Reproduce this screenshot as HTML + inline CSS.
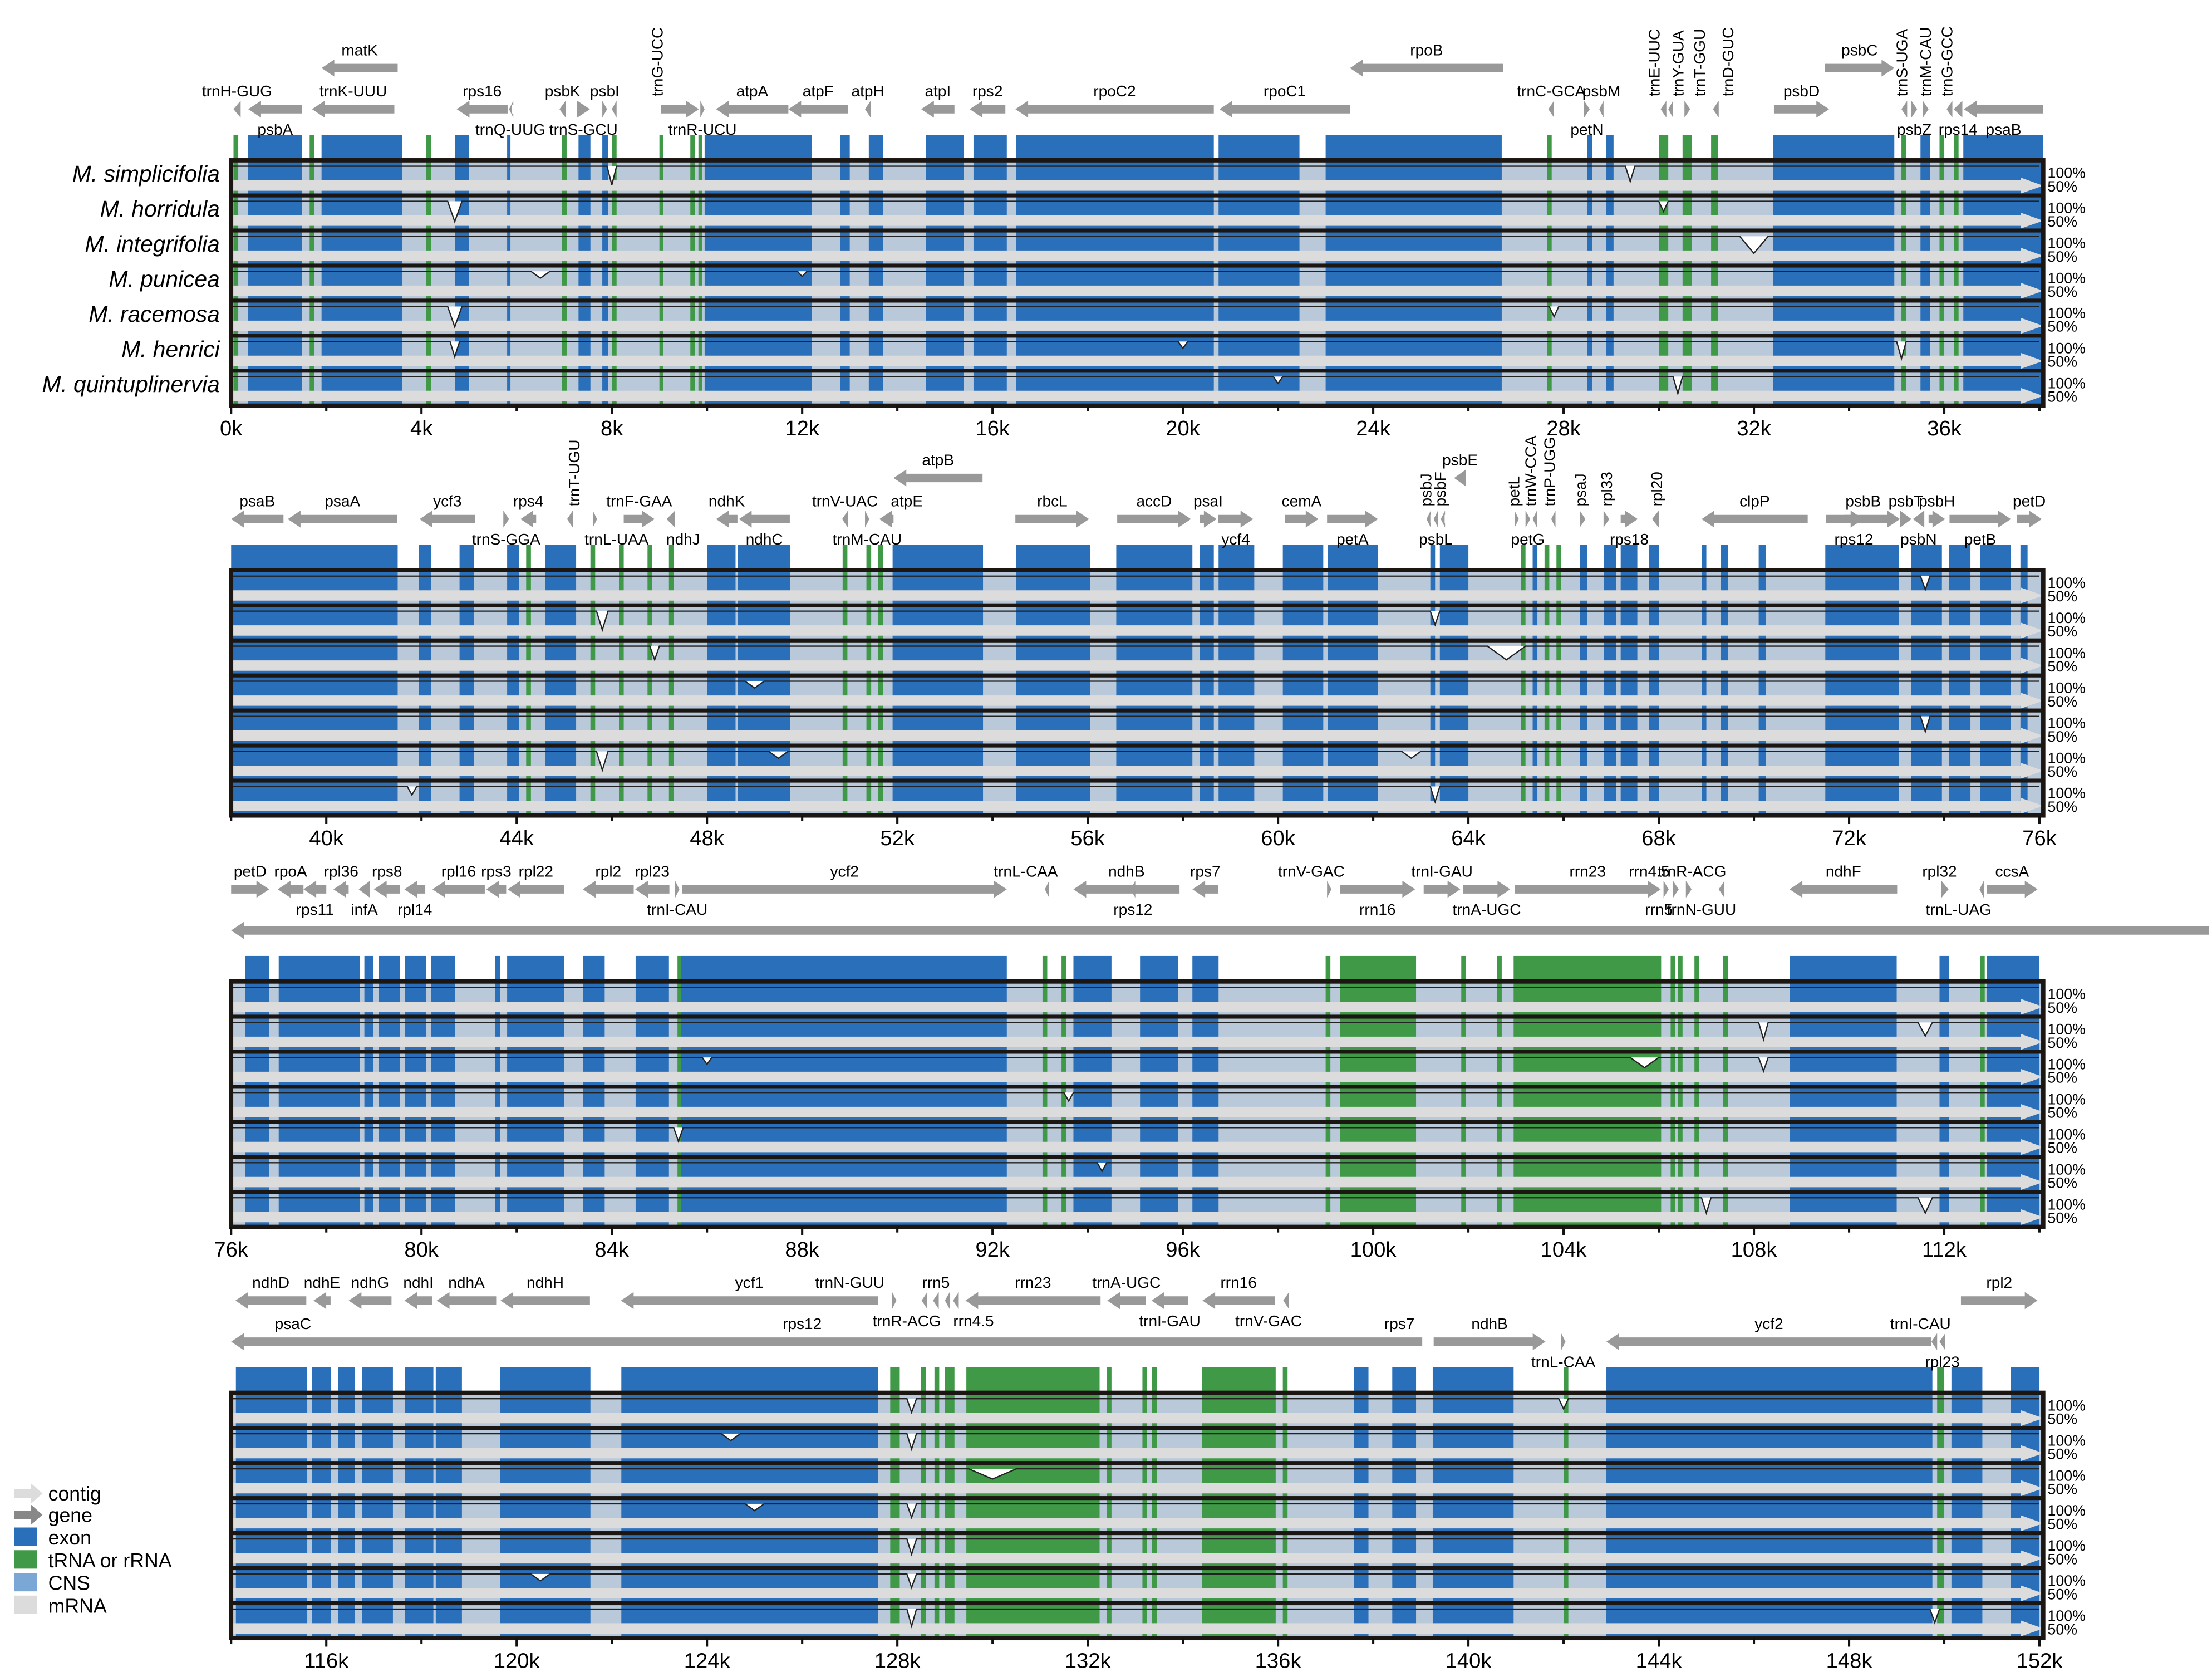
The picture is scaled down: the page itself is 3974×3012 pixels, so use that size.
<!DOCTYPE html>
<html><head><meta charset="utf-8">
<style>
html,body{margin:0;padding:0;background:#fff;}
svg{display:block;}
text{font-family:"Liberation Sans",Arial,sans-serif;}
</style></head>
<body>
<svg id="chart" xmlns="http://www.w3.org/2000/svg" width="3974" height="3012" viewBox="0 0 1560 1182.4" preserveAspectRatio="none">
<g id="legend">
  <g><polygon points="10,1050 22,1050 22,1046 30,1053 22,1060 22,1056 10,1056" fill="#dcdcdc"/><text x="34" y="1058" font-size="14">contig</text></g>
  <g><polygon points="10,1065 22,1065 22,1061 30,1068 22,1075 22,1071 10,1071" fill="#888"/><text x="34" y="1073" font-size="14">gene</text></g>
  <g><rect x="10" y="1077" width="16" height="13" fill="#2a6fb9"/><text x="34" y="1089" font-size="14">exon</text></g>
  <g><rect x="10" y="1093" width="16" height="13" fill="#3f9946"/><text x="34" y="1105" font-size="14">tRNA or rRNA</text></g>
  <g><rect x="10" y="1109" width="16" height="13" fill="#7aa7d6"/><text x="34" y="1121" font-size="14">CNS</text></g>
  <g><rect x="10" y="1125" width="16" height="13" fill="#dcdcdc"/><text x="34" y="1137" font-size="14">mRNA</text></g>
</g>
</svg>
<script>
// ---- data ----
const species = ["M. simplicifolia","M. horridula","M. integrifolia","M. punicea","M. racemosa","M. henrici","M. quintuplinervia"];
const panelStarts = [0,38,76,114];
const panelTops = [113,402,692,982];
const tickLabelsK = [[0,4,8,12,16,20,24,28,32,36],[40,44,48,52,56,60,64,68,72,76],[76,80,84,88,92,96,100,104,108,112],[116,120,124,128,132,136,140,144,148,152]];
const exons = [
 [[0.36,1.49],[1.9,3.6],[4.7,5.0],[5.8,5.87],[7.3,7.55],[7.8,7.92],[9.95,12.2],[12.8,13.0],[13.4,13.7],[14.6,15.4],[15.6,16.3],[16.5,20.65],[20.75,22.45],[23.0,26.7],[28.5,28.6],[28.9,29.05],[32.4,34.95],[35.5,35.7],[36.4,38.1]],
 [[38,41.5],[41.95,42.2],[42.8,43.1],[43.8,44.05],[44.6,45.25],[48.0,48.6],[48.65,49.75],[51.9,53.8],[54.5,56.05],[56.6,58.2],[58.35,58.65],[58.75,59.5],[60.1,60.95],[61.05,62.1],[63.2,63.3],[63.4,64.0],[65.35,65.45],[66.35,66.5],[66.85,67.1],[67.2,67.55],[67.8,68.0],[68.9,69.0],[69.3,69.45],[70.1,70.25],[71.5,73.05],[73.3,73.95],[74.1,74.55],[74.75,75.4],[75.6,75.75]],
 [[76.3,76.8],[77.0,78.7],[78.8,78.98],[79.1,79.55],[79.65,80.1],[80.2,80.7],[81.55,81.65],[81.8,83.0],[83.4,83.85],[84.5,85.2],[85.45,92.3],[93.7,94.5],[95.1,95.9],[96.2,96.75],[108.75,111.0],[111.9,112.1],[112.9,114]],
 [[114.1,115.6],[115.7,116.1],[116.25,116.6],[116.75,117.4],[117.65,118.25],[118.3,118.85],[119.65,121.55],[122.2,127.6],[137.6,137.9],[138.4,138.9],[139.25,140.95],[142.9,149.75],[150.15,150.8],[151.4,152]]
];
const rnas = [
 [[0.05,0.15],[1.65,1.75],[4.1,4.2],[6.95,7.05],[8.0,8.1],[9.0,9.08],[9.65,9.75],[9.82,9.9],[27.65,27.75],[30.0,30.2],[30.5,30.7],[31.1,31.25],[35.1,35.2],[35.9,36.0],[36.2,36.3]],
 [[44.2,44.3],[45.55,45.65],[46.15,46.25],[46.75,46.85],[47.2,47.3],[50.85,50.95],[51.35,51.45],[51.6,51.7],[65.1,65.2],[65.6,65.7],[65.85,65.95]],
 [[85.38,85.45],[93.05,93.15],[93.45,93.55],[99.0,99.1],[99.3,100.9],[101.85,101.95],[102.6,102.7],[102.95,106.05],[106.25,106.35],[106.4,106.5],[106.75,106.85],[107.35,107.45],[112.75,112.85]],
 [[127.85,128.05],[128.5,128.6],[128.78,128.88],[129.0,129.2],[129.45,132.25],[132.4,132.5],[133.15,133.25],[133.35,133.45],[134.4,135.95],[136.1,136.2],[142.0,142.1],[149.85,150.0]]
];
// [name, start, end, dir(1 right,-1 left,0 none,2 both), row(0 upper,1 lower), label(a above,b below,v vertical), labelKb(optional)]
const genes = [
 [["trnH-GUG",0.05,0.2,-1,1,"a"],["psbA",0.36,1.49,-1,1,"b"],["trnK-UUU",1.7,3.43,-1,1,"a"],["matK",1.9,3.5,-1,0,"a"],["rps16",4.74,5.81,-1,1,"a"],["trnQ-UUG",5.84,5.9,-1,1,"b"],["psbK",6.9,7.03,-1,1,"a"],["trnS-GCU",7.27,7.54,1,1,"b"],["psbI",7.8,7.9,1,1,"a"],["",8.0,8.1,-1,1,"a"],["trnG-UCC",9.03,9.83,1,1,"v",8.95],["trnR-UCU",9.86,9.95,1,1,"b"],["atpA",10.19,11.71,-1,1,"a"],["atpF",11.71,12.96,-1,1,"a"],["atpH",13.32,13.44,-1,1,"a"],["atpI",14.5,15.2,-1,1,"a"],["rps2",15.52,16.27,-1,1,"a"],["rpoC2",16.48,20.65,-1,1,"a"],["rpoC1",20.77,23.51,-1,1,"a"],["rpoB",23.51,26.73,-1,0,"a"],["trnC-GCA",27.68,27.8,-1,1,"a"],["petN",28.43,28.55,1,1,"b"],["psbM",28.75,28.84,-1,1,"a"],["trnE-UUC",30.04,30.16,-1,1,"v",29.9],["trnY-GUA",30.2,30.3,-1,1,"v",30.4],["trnT-GGU",30.54,30.66,1,1,"v",30.85],["trnD-GUC",31.14,31.26,-1,1,"v",31.45],["psbD",32.42,33.58,1,1,"a"],["psbC",33.49,34.95,1,0,"a"],["trnS-UGA",35.1,35.22,-1,1,"v",35.1],["psbZ",35.31,35.43,1,1,"b"],["trnM-CAU",35.55,35.67,1,1,"v",35.6],["trnG-GCC",36.05,36.17,-1,1,"v",36.05],["rps14",36.2,36.38,-1,1,"b"],["psaB",36.41,38.08,-1,1,"b"]],
 [["atpB",51.92,53.79,-1,0,"a"],["psaB",38.0,39.1,-1,1,"a"],["psaA",39.19,41.49,-1,1,"a"],["ycf3",41.96,43.13,-1,1,"a"],["trnS-GGA",43.72,43.84,1,1,"b"],["rps4",44.08,44.41,-1,1,"a"],["trnT-UGU",45.06,45.18,-1,1,"v",45.2],["trnL-UAA",45.6,45.69,1,1,"b",46.1],["trnF-GAA",46.25,46.9,1,1,"a"],["ndhJ",47.15,47.33,-1,1,"b",47.5],["ndhK",48.19,48.64,-1,1,"a"],["ndhC",48.67,49.74,-1,1,"b"],["trnV-UAC",50.84,50.96,-1,1,"a"],["trnM-CAU",51.32,51.41,1,1,"b"],["atpE",51.62,51.92,-1,1,"a",52.2],["rbcL",54.48,56.03,1,1,"a"],["accD",56.62,58.17,1,1,"a"],["psaI",58.35,58.71,1,1,"a"],["ycf4",58.74,59.48,1,1,"b"],["cemA",60.14,60.85,1,1,"a"],["petA",61.03,62.1,1,1,"b"],["psbJ",63.12,63.2,-1,1,"v",63.1],["psbL",63.27,63.36,-1,1,"b"],["psbF",63.42,63.5,-1,1,"v",63.4],["psbE",63.7,63.95,-1,0,"a"],["petL",64.97,65.06,1,1,"v",64.95],["petG",65.2,65.3,1,1,"b"],["trnW-CCA",65.35,65.44,-1,1,"v",65.3],["trnP-UGG",65.74,65.83,-1,1,"v",65.7],["psaJ",66.34,66.46,1,1,"v",66.35],["rpl33",66.84,66.96,1,1,"v",66.9],["rps18",67.2,67.56,1,1,"b"],["rpl20",67.86,68.0,-1,1,"v",67.95],["clpP",68.9,71.13,-1,1,"a"],["psbB",71.52,73.07,1,1,"a"],["rps12",71.9,72.3,1,1,"b"],["psbT",73.07,73.31,1,1,"a"],["psbN",73.34,73.58,-1,1,"b"],["psbH",73.67,74.02,1,1,"a"],["petB",74.11,75.4,1,1,"b"],["petD",75.52,76.05,1,1,"a"]],
 [["petD",76.0,76.8,1,0,"a"],["rpoA",76.98,77.52,-1,0,"a"],["rps11",77.52,78.0,-1,0,"b"],["rpl36",78.15,78.47,-1,0,"a"],["infA",78.68,78.92,-1,0,"b"],["rps8",79.0,79.55,-1,0,"a"],["rpl14",79.64,80.08,-1,0,"b"],["rpl16",80.23,81.33,-1,0,"a"],["rps3",81.36,81.78,-1,0,"a"],["rpl22",81.81,83.0,-1,0,"a"],["rpl2",83.39,84.46,-1,0,"a"],["rpl23",84.49,85.21,-1,0,"a"],["trnI-CAU",85.33,85.42,1,0,"b"],["ycf2",85.48,92.3,1,0,"a"],["trnL-CAA",93.1,93.19,-1,0,"a",92.7],["ndhB",93.7,95.93,-1,0,"a"],["rps12",94.9,95.0,-1,0,"b"],["rps7",96.2,96.74,-1,0,"a"],["trnV-GAC",99.03,99.12,1,0,"a",98.7],["rrn16",99.3,100.88,1,0,"b"],["trnI-GAU",101.06,101.83,1,0,"a"],["trnA-UGC",101.89,102.88,1,0,"b"],["rrn23",102.97,106.04,1,0,"a"],["rrn4.5",106.1,106.21,1,0,"a",105.8],["rrn5",106.3,106.42,1,0,"b",106.0],["trnR-ACG",106.57,106.69,1,0,"a",106.7],["trnN-GUU",107.26,107.38,-1,0,"b",106.9],["ndhF",108.75,111.01,-1,0,"a"],["rpl32",111.94,112.09,1,0,"a",111.9],["trnL-UAG",112.74,112.83,-1,0,"b",112.3],["ccsA",112.89,113.96,1,0,"a"],["",76.0,117.57,-1,1,"a"]],
 [["ndhD",114.09,115.58,-1,0,"a"],["ndhE",115.73,116.09,-1,0,"a"],["ndhG",116.47,117.37,-1,0,"a"],["ndhI",117.64,118.23,-1,0,"a"],["ndhA",118.32,119.57,-1,0,"a"],["ndhH",119.66,121.54,-1,0,"a"],["ycf1",122.19,127.59,-1,0,"a"],["trnN-GUU",127.89,127.98,1,0,"a",127.0],["trnR-ACG",128.51,128.63,-1,0,"b",128.2],["rrn5",128.75,128.87,-1,0,"a"],["",129.0,129.1,-1,0,"a"],["rrn4.5",129.17,129.29,-1,0,"b",129.6],["rrn23",129.43,132.27,-1,0,"a"],["trnA-UGC",132.41,133.22,-1,0,"a"],["trnI-GAU",133.34,134.11,-1,0,"b"],["rrn16",134.41,135.93,-1,0,"a"],["trnV-GAC",136.11,136.23,-1,0,"b",135.8],["rpl2",150.35,151.96,1,0,"a"],["psaC",114.0,139.03,-1,1,"a",115.3],["rps12",126.0,126.0,0,1,"a"],["rps7",138.55,138.55,0,1,"a"],["ndhB",139.27,141.62,1,1,"a"],["trnL-CAA",141.95,142.04,1,1,"b"],["ycf2",142.9,149.73,-1,1,"a"],["trnI-CAU",149.73,149.85,-1,1,"a",149.5],["rpl23",149.9,150.02,-1,1,"b"]]
];
// [kb, halfwidthKb, track, identity]
const dips = [
 [[8.0,0.1,0,0.45],[4.7,0.15,1,0.4],[4.7,0.15,4,0.4],[4.7,0.1,5,0.55],[29.4,0.1,0,0.55],[32.0,0.3,2,0.5],[30.4,0.1,6,0.5],[30.1,0.1,1,0.7],[27.8,0.1,4,0.7],[12.0,0.1,3,0.85],[22.0,0.1,6,0.8],[35.1,0.1,5,0.5],[6.5,0.2,3,0.8],[20.0,0.1,5,0.8]],
 [[45.8,0.12,1,0.45],[45.8,0.12,5,0.45],[46.9,0.1,2,0.6],[64.8,0.4,2,0.6],[73.6,0.1,0,0.6],[73.6,0.1,4,0.55],[63.3,0.1,6,0.55],[63.3,0.1,1,0.6],[49.0,0.2,3,0.8],[49.5,0.2,5,0.8],[41.8,0.1,6,0.75],[62.8,0.2,5,0.8]],
 [[105.7,0.3,2,0.7],[108.2,0.1,1,0.5],[108.2,0.1,2,0.6],[111.6,0.15,1,0.6],[111.6,0.15,6,0.55],[85.4,0.1,4,0.6],[107.0,0.1,6,0.55],[93.6,0.1,3,0.75],[86.0,0.1,2,0.8],[94.3,0.1,5,0.75]],
 [[130.0,0.5,2,0.7],[128.3,0.1,0,0.6],[128.3,0.1,1,0.55],[128.3,0.1,3,0.6],[128.3,0.1,4,0.55],[128.3,0.1,5,0.6],[128.3,0.1,6,0.5],[142.0,0.1,0,0.7],[124.5,0.2,1,0.8],[125.0,0.2,3,0.8],[120.5,0.2,5,0.8],[149.8,0.1,6,0.6]]
];
// ---- scales ----
const X0=163, X1=1441, PXKB=(X1-X0)/38.08;
function xScale(p,kb){return X0+(kb-panelStarts[p])*PXKB;}
const BOXH=173, TH=BOXH/7;
function trackTop(p,t){return panelTops[p]+t*TH;}
function identY(p,t,v){return trackTop(p,t)+4.2+(1-v)*24;}

const NS="http://www.w3.org/2000/svg";
const svg=document.getElementById('chart');
function mk(tag,attrs,parent){const e=document.createElementNS(NS,tag);for(const k in attrs)e.setAttribute(k,attrs[k]);(parent||svg).appendChild(e);return e;}
const C={exon:"#2a6fb9",rna:"#3f9946",cns:"#b9c9da",grey:"#dcdcdc",gene:"#999"};

for(let p=0;p<4;p++){
  const T=panelTops[p];
  const g=mk('g',{});
  
  
  const clipW=X1;
  // tracks background
  for(let t=0;t<7;t++){
    const y=trackTop(p,t);
    const bg=mk('rect',{x:X0,y:y,width:X1-X0,height:TH,fill:C.cns},g);
    
    
  }
  // exons and rnas (feature strip + through tracks)
  exons[p].forEach(e=>{
    const a=Math.max(X0,xScale(p,e[0])), b=Math.min(X1,xScale(p,e[1]));
    const r=mk('rect',{x:a,y:T-18,width:Math.max(1,b-a),height:18+BOXH,fill:C.exon},g);
    
    
  });
  rnas[p].forEach(e=>{
    const a=Math.max(X0,xScale(p,e[0])), b=Math.min(X1,xScale(p,e[1]));
    const r=mk('rect',{x:a,y:T-18,width:Math.max(2,b-a),height:18+BOXH,fill:C.rna},g);
    
    
  });
  for(let t=0;t<7;t++){
    const y=trackTop(p,t);
    const band=mk('polygon',{points:`${X0},${y+14.2} ${X1-16},${y+14.2} ${X1-16},${y+12.2} ${X1},${y+17.9} ${X1-16},${y+23.5} ${X1-16},${y+21.5} ${X0},${y+21.5}`,fill:C.grey},g);
    
    
    // conservation curve
    const y0=identY(p,t,1);
    const ds=dips[p].filter(d=>d[2]===t).sort((a,b)=>a[0]-b[0]);
    let pts=[[X0,y0]];
    ds.forEach(d=>{pts.push([xScale(p,d[0]-d[1]),y0]);pts.push([xScale(p,d[0]),identY(p,t,d[3])]);pts.push([xScale(p,d[0]+d[1]),y0]);});
    pts.push([X1-3,y0]);
    const ps=pts.map(q=>q[0].toFixed(1)+','+q[1].toFixed(1)).join(' ');
    const fillp=mk('polygon',{points:ps,fill:'#fff'},g);
    
    
    const line=mk('polyline',{points:ps,fill:'none',stroke:'#222','stroke-width':0.9},g);
    
    
    const sep=mk('rect',{x:X0,y:y-1.3,width:X1-X0,height:2.8,fill:'#1c1612'},g);
    
    
    const t1=mk('text',{x:1444,y:y+12.5,'font-size':10.5},g);t1.textContent='100%';
    
    
    const t2=mk('text',{x:1444,y:y+22,'font-size':10.5},g);t2.textContent='50%';
    
    
    if(p===0){
      const sl=mk('text',{x:155,y:y+15,'font-size':16,'font-style':'italic','text-anchor':'end'},g);
      sl.textContent=species[t];
      
      
    }
  }
  const box=mk('rect',{x:X0,y:T,width:X1-X0,height:BOXH,fill:'none',stroke:'#1c1612','stroke-width':3},g);
  
  
  // axis
  for(let k=panelStarts[p];k<=panelStarts[p]+38;k+=2){
    const x=xScale(p,k); if(x>X1+1) break;
    const tk=mk('line',{x1:x,y1:T+BOXH,x2:x,y2:T+BOXH+(k%4===0?6:4),stroke:'#111','stroke-width':1.6},g);
    
    
  }
  tickLabelsK[p].forEach(k=>{
    const tl=mk('text',{x:xScale(p,k),y:T+BOXH+21,'font-size':15,'text-anchor':'middle'},g);
    tl.textContent=k+'k';
    
    
  });
  // genes
  genes[p].forEach(gn=>{
    const [name,s,e,dir,row,lab,lk]=gn;
    const ry=T-(row===0?65:36);
    let a=xScale(p,s), b=Math.min(xScale(p,e), row===1&&p===2?1558:X1);
    if(dir!==0){
      const len=b-a, hl=Math.min(9,Math.max(3,len));
      let pts;
      if(dir===1) pts=`${a},${ry-3} ${b-hl},${ry-3} ${b-hl},${ry-6} ${b},${ry} ${b-hl},${ry+6} ${b-hl},${ry+3} ${a},${ry+3}`;
      else if(dir===-1) pts=`${b},${ry-3} ${a+hl},${ry-3} ${a+hl},${ry-6} ${a},${ry} ${a+hl},${ry+6} ${a+hl},${ry+3} ${b},${ry+3}`;
      else pts=`${a},${ry} ${a+hl},${ry-6} ${b-hl},${ry-6} ${b},${ry} ${b-hl},${ry+6} ${a+hl},${ry+6}`;
      const ar=mk('polygon',{points:pts,fill:C.gene},g);
      
      
    }
    if(name){
      const cx=lk!==undefined?xScale(p,lk):(a+b)/2;
      let tx;
      if(lab==='v'){
        tx=mk('text',{x:0,y:0,'font-size':11,transform:`translate(${cx+4},${ry-9}) rotate(-90)`},g);
      }else{
        tx=mk('text',{x:cx,y:lab==='a'?ry-9:ry+18,'font-size':11,'text-anchor':'middle'},g);
      }
      tx.textContent=name;
      
      
    }
  });
}
</script>
</body></html>
